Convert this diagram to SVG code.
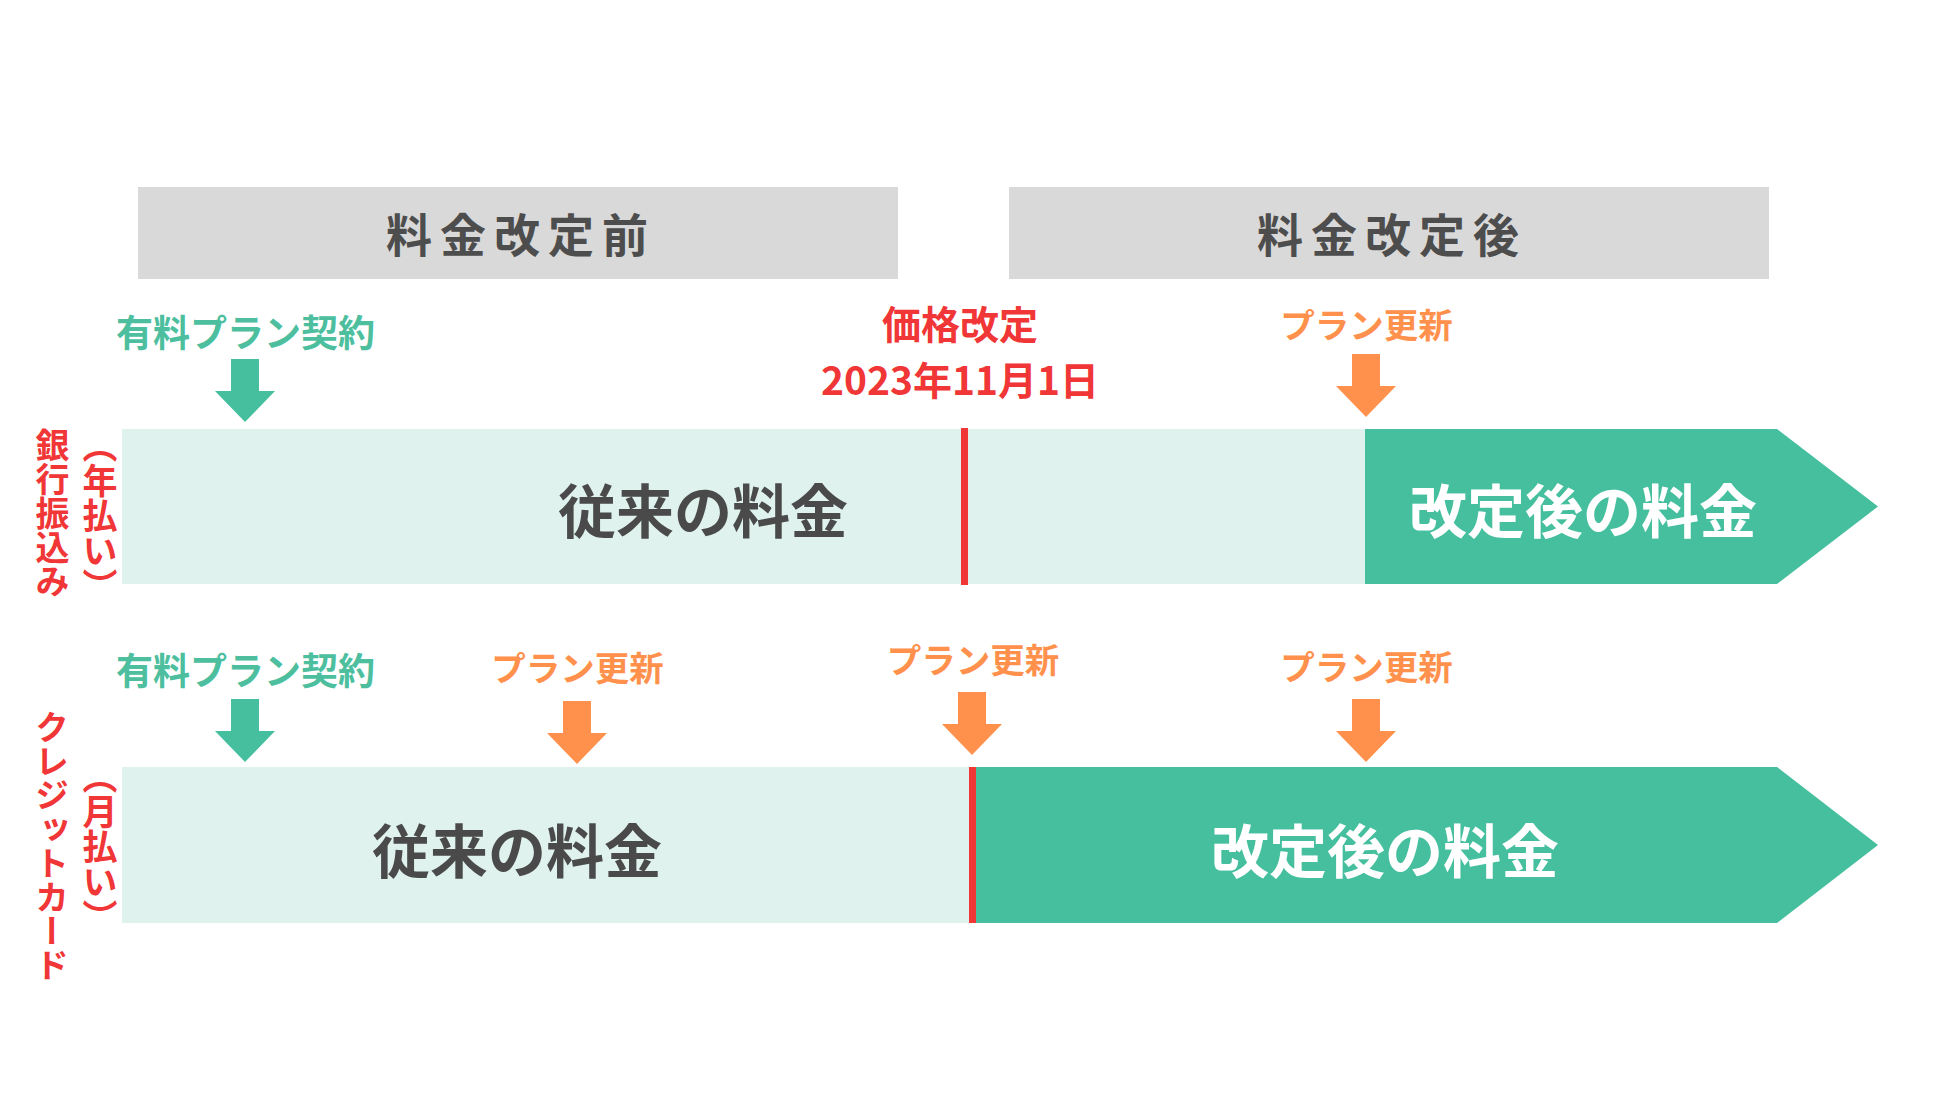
<svg xmlns="http://www.w3.org/2000/svg" xmlns:xlink="http://www.w3.org/1999/xlink" width="1950" height="1096" viewBox="0 0 1950 1096">
<style>
text{font-family:"Noto Sans CJK JP","Noto Sans",sans-serif;font-weight:700}
.title{font-size:46px;fill:#4d4d4d;text-anchor:middle;letter-spacing:8px}
.hdr{fill:#d9d9d9}
.light{fill:#dff2ee}
.dark{fill:#45bf9e}
.red{fill:#f03636}
.big{font-size:58px;text-anchor:middle}
.darktxt{fill:#4a4a4a}
.white{fill:#ffffff}
.teal{font-size:37px;fill:#4dbf9f;text-anchor:middle}
.orange{font-size:34.5px;fill:#ff914d;text-anchor:middle}
.redtxt{font-size:39px;fill:#f03636;text-anchor:middle}
.vert{writing-mode:vertical-rl;fill:#f03636;text-anchor:start}
</style>
<defs>
<path id="arr" d="M-14,-63 H14 V-31 H30 L0,0 L-30,-31 H-14 Z"/>
</defs>
<rect width="1950" height="1096" fill="#ffffff"/>

<g id="header-before">
<rect class="hdr" x="138" y="187" width="760" height="92"/>
<text class="title" x="521" y="252">料金改定前</text>
</g>
<g id="header-after">
<rect class="hdr" x="1009" y="187" width="760" height="92"/>
<text class="title" x="1392" y="252">料金改定後</text>
</g>

<g id="label-bank">
<text class="vert" x="52.5" y="428" font-size="34">銀行振込み</text>
<text class="vert" x="100" y="428" font-size="35">（年払い）</text>
</g>
<g id="label-card">
<text class="vert" x="52" y="710" font-size="34">クレジットカード</text>
<text class="vert" x="100" y="759" font-size="35">（月払い）</text>
</g>

<g id="row1-bar">
<rect class="light" x="122" y="429" width="1243" height="155"/>
<polygon class="dark" points="1365,429 1777,429 1878,506.5 1777,584 1365,584"/>
<text class="big darktxt" x="703" y="533">従来の料金</text>
<text class="big white" x="1583" y="533">改定後の料金</text>
</g>
<g id="row2-bar">
<rect class="light" x="122" y="767" width="850" height="156"/>
<polygon class="dark" points="972,767 1777,767 1878,845 1777,923 972,923"/>
<text class="big darktxt" x="517" y="873">従来の料金</text>
<text class="big white" x="1385" y="873">改定後の料金</text>
</g>

<g id="price-revision">
<text class="redtxt" x="960" y="339">価格改定</text>
<text class="redtxt" x="960" y="395">2023年11月1日</text>
</g>

<g id="row1-contract">
<text class="teal" x="245.5" y="347">有料プラン契約</text>
</g>
<g id="row1-renewal">
<text class="orange" x="1366.5" y="338">プラン更新</text>
</g>
<g id="row2-contract">
<text class="teal" x="245.5" y="685">有料プラン契約</text>
</g>
<g id="row2-renewal1">
<text class="orange" x="577.5" y="681">プラン更新</text>
</g>
<g id="row2-renewal2">
<text class="orange" x="973" y="673">プラン更新</text>
</g>
<g id="row2-renewal3">
<text class="orange" x="1366.5" y="680">プラン更新</text>
</g>

<g id="connectors">
<use xlink:href="#arr" x="245" y="422" fill="#45bf9e"/>
<use xlink:href="#arr" x="1366" y="417" fill="#ff914d"/>
<use xlink:href="#arr" x="245" y="762" fill="#45bf9e"/>
<use xlink:href="#arr" x="577" y="764" fill="#ff914d"/>
<use xlink:href="#arr" x="972" y="755" fill="#ff914d"/>
<use xlink:href="#arr" x="1366" y="762" fill="#ff914d"/>
<rect class="red" x="961" y="428" width="7" height="157"/>
<rect class="red" x="969" y="767" width="7" height="156"/>
</g>
</svg>
